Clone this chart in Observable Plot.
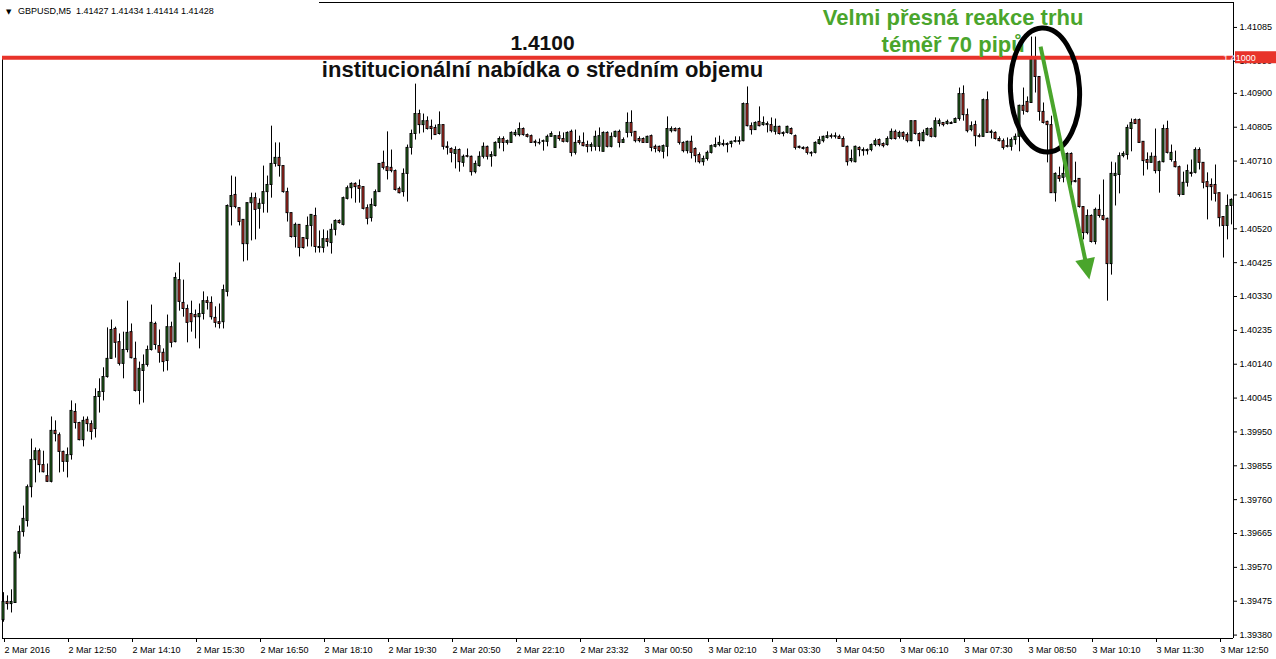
<!DOCTYPE html>
<html><head><meta charset="utf-8">
<script src="https://cdn.jsdelivr.net/npm/d3@7"></script>
<script src="https://cdn.jsdelivr.net/npm/@observablehq/plot@0.6"></script>
<style>html,body{margin:0;padding:0;background:#fff;} svg{display:block}</style>
</head><body><div id="chart"></div>
<script>
// ---------- data (GBPUSD M5, 2-3 Mar 2016) ----------
const symbol = "GBPUSD,M5";
const headerQuote = "1.41427 1.41434 1.41414 1.41428";

const open = [
1.39422,1.39473,1.39467,1.39470,1.39608,1.39669,1.39700,1.39795,1.39871,1.39896,
1.39857,1.39826,1.39810,1.39953,1.39941,1.39894,1.39866,1.39885,1.40006,1.39975,
1.39927,1.39984,1.39972,1.39958,1.40048,1.40062,1.40104,1.40155,1.40239,1.40202,
1.40141,1.40180,1.40230,1.40155,1.40065,1.40121,1.40138,1.40180,1.40253,1.40191,
1.40172,1.40149,1.40244,1.40202,1.40376,1.40312,1.40295,1.40281,1.40278,1.40272,
1.40281,1.40317,1.40312,1.40270,1.40258,1.40258,1.40343,1.40581,1.40615,1.40578,
1.40545,1.40477,1.40592,1.40606,1.40576,1.40590,1.40623,1.40643,1.40702,1.40719,
1.40696,1.40623,1.40564,1.40497,1.40531,1.40494,1.40491,1.40528,1.40556,1.40469,
1.40466,1.40491,1.40480,1.40517,1.40542,1.40531,1.40604,1.40634,1.40646,1.40640,
1.40637,1.40578,1.40550,1.40584,1.40623,1.40705,1.40693,1.40691,1.40682,1.40632,
1.40623,1.40674,1.40747,1.40786,1.40842,1.40811,1.40822,1.40806,1.40803,1.40786,
1.40811,1.40750,1.40744,1.40730,1.40741,1.40705,1.40724,1.40722,1.40679,1.40696,
1.40722,1.40750,1.40722,1.40724,1.40761,1.40772,1.40761,1.40761,1.40783,1.40783,
1.40800,1.40783,1.40780,1.40764,1.40761,1.40764,1.40764,1.40778,1.40747,1.40780,
1.40772,1.40764,1.40792,1.40733,1.40766,1.40761,1.40755,1.40750,1.40750,1.40750,
1.40736,1.40789,1.40750,1.40778,1.40792,1.40761,1.40789,1.40817,1.40792,1.40772,
1.40772,1.40761,1.40780,1.40750,1.40750,1.40736,1.40750,1.40794,1.40800,1.40800,
1.40761,1.40738,1.40764,1.40744,1.40727,1.40707,1.40716,1.40733,1.40750,1.40755,
1.40758,1.40758,1.40758,1.40764,1.40764,1.40766,1.40870,1.40808,1.40797,1.40820,
1.40811,1.40814,1.40811,1.40792,1.40806,1.40789,1.40789,1.40800,1.40780,1.40750,
1.40747,1.40747,1.40733,1.40733,1.40758,1.40766,1.40775,1.40780,1.40778,1.40778,
1.40772,1.40750,1.40710,1.40707,1.40747,1.40738,1.40738,1.40741,1.40755,1.40769,
1.40758,1.40755,1.40772,1.40792,1.40778,1.40789,1.40783,1.40766,1.40822,1.40786,
1.40766,1.40783,1.40800,1.40778,1.40814,1.40817,1.40814,1.40817,1.40817,1.40828,
1.40898,1.40839,1.40797,1.40811,1.40780,1.40778,1.40881,1.40792,1.40789,1.40772,
1.40766,1.40752,1.40750,1.40769,1.40778,1.40865,1.40876,1.40873,1.40994,1.40946,
1.40848,1.40820,1.40811,1.40620,1.40668,1.40663,1.40665,1.40730,1.40654,1.40660,
1.40581,1.40508,1.40556,1.40483,1.40573,1.40556,1.40548,1.40421,1.40668,1.40671,
1.40724,1.40727,1.40800,1.40825,1.40825,1.40764,1.40713,1.40705,1.40722,1.40682,
1.40707,1.40800,1.40713,1.40707,1.40693,1.40615,1.40649,1.40677,1.40677,1.40741,
1.40705,1.40651,1.40643,1.40643,1.40620,1.40553,1.40528,1.40584];

const close = [
1.39473,1.39467,1.39473,1.39611,1.39669,1.39706,1.39795,1.39871,1.39896,1.39857,
1.39837,1.39810,1.39953,1.39944,1.39894,1.39866,1.39885,1.40009,1.39975,1.39927,
1.39981,1.39972,1.39950,1.40048,1.40062,1.40104,1.40155,1.40236,1.40200,1.40141,
1.40180,1.40228,1.40157,1.40065,1.40127,1.40138,1.40180,1.40256,1.40194,1.40172,
1.40146,1.40244,1.40200,1.40382,1.40315,1.40295,1.40256,1.40258,1.40272,1.40281,
1.40317,1.40312,1.40272,1.40256,1.40253,1.40348,1.40584,1.40612,1.40581,1.40539,
1.40477,1.40592,1.40606,1.40573,1.40590,1.40623,1.40643,1.40702,1.40719,1.40696,
1.40623,1.40564,1.40497,1.40531,1.40466,1.40466,1.40528,1.40559,1.40469,1.40466,
1.40491,1.40483,1.40517,1.40542,1.40536,1.40606,1.40634,1.40646,1.40637,1.40632,
1.40576,1.40548,1.40587,1.40623,1.40702,1.40691,1.40682,1.40682,1.40629,1.40620,
1.40674,1.40747,1.40786,1.40842,1.40811,1.40822,1.40800,1.40800,1.40783,1.40811,
1.40750,1.40747,1.40733,1.40741,1.40707,1.40722,1.40722,1.40679,1.40702,1.40722,
1.40750,1.40722,1.40727,1.40761,1.40772,1.40761,1.40766,1.40789,1.40789,1.40800,
1.40783,1.40778,1.40761,1.40761,1.40760,1.40766,1.40778,1.40786,1.40780,1.40772,
1.40764,1.40789,1.40733,1.40761,1.40761,1.40752,1.40750,1.40755,1.40778,1.40780,
1.40789,1.40750,1.40778,1.40792,1.40761,1.40769,1.40817,1.40789,1.40766,1.40766,
1.40761,1.40778,1.40747,1.40744,1.40738,1.40752,1.40800,1.40800,1.40794,1.40761,
1.40738,1.40764,1.40733,1.40724,1.40707,1.40716,1.40733,1.40752,1.40755,1.40761,
1.40755,1.40755,1.40764,1.40766,1.40766,1.40870,1.40808,1.40797,1.40817,1.40808,
1.40817,1.40811,1.40794,1.40806,1.40786,1.40786,1.40806,1.40786,1.40747,1.40747,
1.40744,1.40733,1.40731,1.40761,1.40769,1.40778,1.40780,1.40778,1.40780,1.40772,
1.40750,1.40707,1.40716,1.40750,1.40741,1.40741,1.40741,1.40755,1.40766,1.40755,
1.40752,1.40772,1.40792,1.40772,1.40789,1.40778,1.40766,1.40822,1.40786,1.40766,
1.40789,1.40800,1.40778,1.40822,1.40822,1.40811,1.40820,1.40814,1.40828,1.40898,
1.40839,1.40794,1.40808,1.40780,1.40778,1.40881,1.40789,1.40789,1.40772,1.40766,
1.40747,1.40750,1.40769,1.40778,1.40865,1.40851,1.40848,1.40994,1.40946,1.40848,
1.40817,1.40811,1.40620,1.40674,1.40660,1.40674,1.40730,1.40651,1.40651,1.40581,
1.40508,1.40556,1.40483,1.40573,1.40556,1.40545,1.40421,1.40674,1.40674,1.40724,
1.40730,1.40803,1.40817,1.40814,1.40761,1.40710,1.40705,1.40722,1.40682,1.40707,
1.40800,1.40733,1.40733,1.40693,1.40615,1.40649,1.40682,1.40674,1.40741,1.40705,
1.40649,1.40637,1.40637,1.40618,1.40550,1.40528,1.40584,1.40601];

const high = [
1.39499,1.39490,1.39507,1.39616,1.39686,1.39742,1.39801,1.39930,1.39905,1.39902,
1.39896,1.39860,1.39992,1.39981,1.39947,1.39896,1.39905,1.40037,1.40029,1.39977,
1.39992,1.39992,1.39981,1.40071,1.40099,1.40130,1.40242,1.40264,1.40244,1.40225,
1.40230,1.40317,1.40253,1.40202,1.40146,1.40166,1.40191,1.40306,1.40258,1.40236,
1.40183,1.40278,1.40258,1.40396,1.40424,1.40376,1.40306,1.40317,1.40292,1.40309,
1.40343,1.40329,1.40329,1.40301,1.40309,1.40362,1.40587,1.40668,1.40665,1.40578,
1.40545,1.40592,1.40620,1.40620,1.40604,1.40696,1.40668,1.40808,1.40761,1.40761,
1.40696,1.40634,1.40564,1.40536,1.40531,1.40494,1.40553,1.40559,1.40578,1.40514,
1.40517,1.40514,1.40533,1.40545,1.40545,1.40609,1.40640,1.40649,1.40649,1.40657,
1.40637,1.40587,1.40604,1.40629,1.40702,1.40738,1.40792,1.40741,1.40685,1.40637,
1.40688,1.40755,1.40797,1.40926,1.40853,1.40842,1.40834,1.40825,1.40811,1.40848,
1.40811,1.40764,1.40747,1.40750,1.40744,1.40727,1.40744,1.40724,1.40710,1.40736,
1.40761,1.40752,1.40736,1.40764,1.40778,1.40778,1.40769,1.40792,1.40797,1.40817,
1.40803,1.40786,1.40783,1.40769,1.40772,1.40769,1.40783,1.40792,1.40780,1.40792,
1.40789,1.40792,1.40797,1.40797,1.40780,1.40789,1.40766,1.40761,1.40794,1.40803,
1.40792,1.40792,1.40789,1.40794,1.40797,1.40775,1.40845,1.40851,1.40792,1.40778,
1.40775,1.40780,1.40783,1.40755,1.40752,1.40755,1.40834,1.40806,1.40803,1.40803,
1.40764,1.40766,1.40780,1.40747,1.40733,1.40724,1.40738,1.40755,1.40775,1.40780,
1.40769,1.40761,1.40766,1.40778,1.40778,1.40873,1.40918,1.40817,1.40820,1.40862,
1.40834,1.40820,1.40831,1.40828,1.40808,1.40792,1.40808,1.40803,1.40783,1.40752,
1.40750,1.40750,1.40736,1.40764,1.40778,1.40780,1.40792,1.40786,1.40789,1.40783,
1.40778,1.40752,1.40741,1.40752,1.40750,1.40747,1.40744,1.40758,1.40772,1.40772,
1.40761,1.40778,1.40800,1.40797,1.40794,1.40792,1.40789,1.40822,1.40822,1.40789,
1.40797,1.40803,1.40803,1.40831,1.40828,1.40817,1.40825,1.40820,1.40831,1.40915,
1.40921,1.40856,1.40820,1.40822,1.40786,1.40884,1.40904,1.40797,1.40792,1.40778,
1.40772,1.40775,1.40775,1.40786,1.40867,1.40915,1.40890,1.41058,1.41058,1.40946,
1.40873,1.40822,1.40836,1.40677,1.40693,1.40707,1.40733,1.40733,1.40707,1.40660,
1.40581,1.40573,1.40559,1.40578,1.40615,1.40657,1.40550,1.40707,1.40705,1.40733,
1.40736,1.40811,1.40828,1.40828,1.40828,1.40764,1.40733,1.40733,1.40800,1.40710,
1.40811,1.40822,1.40755,1.40738,1.40696,1.40679,1.40699,1.40713,1.40747,1.40747,
1.40705,1.40677,1.40660,1.40699,1.40620,1.40553,1.40615,1.40604];

const low = [
1.39416,1.39450,1.39442,1.39470,1.39594,1.39655,1.39683,1.39765,1.39807,1.39835,
1.39835,1.39808,1.39807,1.39922,1.39835,1.39837,1.39821,1.39871,1.39958,1.39925,
1.39908,1.39950,1.39927,1.39933,1.40003,1.40037,1.40101,1.40155,1.40157,1.40135,
1.40099,1.40172,1.40155,1.40062,1.40026,1.40031,1.40132,1.40177,1.40180,1.40143,
1.40118,1.40121,1.40186,1.40200,1.40289,1.40272,1.40200,1.40230,1.40211,1.40183,
1.40264,1.40292,1.40264,1.40242,1.40239,1.40239,1.40329,1.40528,1.40576,1.40528,
1.40427,1.40430,1.40486,1.40489,1.40519,1.40564,1.40564,1.40606,1.40693,1.40665,
1.40620,1.40539,1.40494,1.40466,1.40441,1.40463,1.40469,1.40469,1.40452,1.40452,
1.40452,1.40469,1.40449,1.40500,1.40533,1.40528,1.40601,1.40604,1.40592,1.40592,
1.40573,1.40531,1.40539,1.40581,1.40623,1.40685,1.40657,1.40677,1.40626,1.40618,
1.40609,1.40595,1.40727,1.40769,1.40786,1.40789,1.40797,1.40769,1.40783,1.40783,
1.40741,1.40727,1.40705,1.40688,1.40679,1.40693,1.40719,1.40668,1.40674,1.40693,
1.40716,1.40713,1.40693,1.40722,1.40744,1.40736,1.40755,1.40761,1.40778,1.40778,
1.40780,1.40775,1.40761,1.40750,1.40755,1.40738,1.40750,1.40778,1.40747,1.40766,
1.40761,1.40761,1.40722,1.40727,1.40755,1.40750,1.40733,1.40736,1.40738,1.40736,
1.40736,1.40747,1.40747,1.40775,1.40747,1.40761,1.40775,1.40778,1.40761,1.40761,
1.40761,1.40761,1.40736,1.40733,1.40733,1.40716,1.40722,1.40789,1.40792,1.40755,
1.40733,1.40730,1.40716,1.40705,1.40702,1.40696,1.40710,1.40730,1.40747,1.40750,
1.40750,1.40733,1.40747,1.40761,1.40755,1.40764,1.40806,1.40783,1.40797,1.40806,
1.40808,1.40789,1.40789,1.40783,1.40783,1.40778,1.40786,1.40783,1.40741,1.40744,
1.40741,1.40727,1.40722,1.40730,1.40755,1.40761,1.40772,1.40772,1.40772,1.40772,
1.40750,1.40696,1.40705,1.40705,1.40722,1.40724,1.40727,1.40736,1.40750,1.40750,
1.40747,1.40752,1.40769,1.40769,1.40772,1.40769,1.40761,1.40764,1.40783,1.40750,
1.40764,1.40780,1.40775,1.40775,1.40806,1.40806,1.40811,1.40814,1.40817,1.40822,
1.40822,1.40789,1.40792,1.40750,1.40775,1.40778,1.40789,1.40772,1.40769,1.40764,
1.40741,1.40747,1.40738,1.40755,1.40736,1.40839,1.40845,1.40873,1.40901,1.40822,
1.40814,1.40705,1.40620,1.40595,1.40651,1.40649,1.40665,1.40640,1.40649,1.40578,
1.40489,1.40503,1.40480,1.40475,1.40550,1.40542,1.40317,1.40390,1.40584,1.40618,
1.40719,1.40713,1.40736,1.40814,1.40761,1.40668,1.40685,1.40705,1.40674,1.40620,
1.40705,1.40730,1.40707,1.40691,1.40609,1.40615,1.40637,1.40665,1.40674,1.40685,
1.40632,1.40545,1.40598,1.40595,1.40525,1.40438,1.40489,1.40531];

// x-axis tick labels (every 16th bar) and the bar index each one sits on
const timeLabels = ["2 Mar 2016","2 Mar 12:50","2 Mar 14:10","2 Mar 15:30","2 Mar 16:50",
  "2 Mar 18:10","2 Mar 19:30","2 Mar 20:50","2 Mar 22:10","2 Mar 23:32",
  "3 Mar 00:50","3 Mar 02:10","3 Mar 03:30","3 Mar 04:50","3 Mar 06:10",
  "3 Mar 07:30","3 Mar 08:50","3 Mar 10:10","3 Mar 11:30","3 Mar 12:50"];
const timeLabelIndex = [0,16,32,48,64,80,96,112,128,144,160,176,192,208,224,240,256,272,288,304];

// price-axis tick labels
const priceTicks = [1.39380,1.39475,1.39570,1.39665,1.39760,1.39855,1.39950,1.40045,1.40140,
  1.40235,1.40330,1.40425,1.40520,1.40615,1.40710,1.40805,1.40900,1.40990,1.41085];

// annotations
const levelPrice = 1.41000;
const levelTitle = "1.4100";
const levelSubtitle = "institucionální nabídka o středním objemu";
const noteLines = ["Velmi přesná reakce trhu", "téměř 70 pipů"];

// ---------- chart ----------
const candles = open.map((o, i) => ({i, open: o, high: high[i], low: low[i], close: close[i]}));
const GREEN = "#2b7a22", RED = "#e8392c", LINE_RED = "#e8332a", NOTE = "#4aa52c";
const xDom = [-0.25, 307.5], yDom = [1.393704, 1.411550];
const FONT = "'Liberation Sans', Arial, sans-serif";

const chart = Plot.plot({
  width: 1276, height: 659,
  marginLeft: 2, marginRight: 43, marginTop: 2, marginBottom: 21,
  x: {domain: xDom, axis: null},
  y: {domain: yDom, axis: null},
  style: {fontFamily: FONT, fontSize: "9px", background: "#fff", color: "#000"},
  marks: [
    // frame pieces
    Plot.ruleX([xDom[1]], {stroke: "#000"}),
    Plot.ruleY([yDom[0]], {stroke: "#000"}),
    Plot.ruleX([xDom[0]], {y1: levelPrice, y2: yDom[0], stroke: "#000"}),
    Plot.ruleY([yDom[1]], {x1: 79, x2: xDom[1], stroke: "#000"}),
    // candles
    Plot.ruleX(candles, {x: "i", y1: "low", y2: "high", stroke: "#000", strokeWidth: 1}),
    Plot.rect(candles, {x1: d => d.i - 0.25, x2: d => d.i + 0.25, y1: "open", y2: "close",
      fill: d => d.close >= d.open ? GREEN : RED, stroke: "#000", strokeWidth: 1}),
    Plot.ruleY(candles.filter(d => d.open === d.close), {y: "open", x1: d => d.i - 0.375, x2: d => d.i + 0.375, stroke: "#000"}),
    // level line
    Plot.ruleY([levelPrice], {stroke: LINE_RED, strokeWidth: 4}),
    // axes
    Plot.axisY(priceTicks, {anchor: "right", tickSize: 3, tickPadding: 3, tickFormat: d => d.toFixed(5), label: null, stroke: "#000", fill: "#000"}),
    Plot.axisX(timeLabelIndex, {anchor: "bottom", tickSize: 4, tickPadding: 4, textAnchor: "start", dx: 1,
      tickFormat: d => timeLabels[timeLabelIndex.indexOf(d)], label: null, stroke: "#000", fill: "#000"}),
    // header
    Plot.text(["\u25BC"], {frameAnchor: "top-left", dx: 3.5, dy: 11, lineAnchor: "bottom", textAnchor: "start", fontSize: 7, fontFamily: "'DejaVu Sans', sans-serif"}),
    Plot.text([symbol + "\u00a0\u00a0" + headerQuote], {frameAnchor: "top-left", dx: 15.5, dy: 11.5, lineAnchor: "bottom", textAnchor: "start", fontSize: 9}),
    // level annotation
    Plot.text([{t: levelTitle, x: 134.75, y: 1.41022}], {x: "x", y: "y", text: "t", lineAnchor: "bottom", fontSize: 21, fontWeight: "bold", fill: "#111"}),
    Plot.text([{t: levelSubtitle, x: 134.75, y: 1.40947}], {x: "x", y: "y", text: "t", lineAnchor: "bottom", fontSize: 22, fontWeight: "bold", fill: "#111"}),
    // green note
    Plot.text([{t: noteLines[0], x: 237.4, y: 1.41092}, {t: noteLines[1], x: 237.4, y: 1.41016}],
      {x: "x", y: "y", text: "t", lineAnchor: "bottom", fontSize: 22, fontWeight: "bold", fill: NOTE})
  ]
});
document.getElementById("chart").appendChild(chart);

// ellipse, arrow and price tag, positioned through the plot's scales
const svg = d3.select(chart);
const sx = chart.scale("x"), sy = chart.scale("y");
const ecx = sx.apply(260.5), ecy = sy.apply(1.40908);
svg.append("ellipse").attr("cx", ecx).attr("cy", ecy).attr("rx", 34.5).attr("ry", 62)
  .attr("fill", "none").attr("stroke", "#000").attr("stroke-width", 5)
  .attr("transform", `rotate(-3 ${ecx} ${ecy})`);

const ax0 = sx.apply(259.4), ay0 = sy.apply(1.41030);
const ax1 = sx.apply(271.6), ay1 = sy.apply(1.40376);
const len = Math.hypot(ax1 - ax0, ay1 - ay0), ux = (ax1 - ax0) / len, uy = (ay1 - ay0) / len;
const headL = 21, headW = 10;
const bx = ax1 - ux * headL, by = ay1 - uy * headL;
svg.append("line").attr("x1", ax0).attr("y1", ay0).attr("x2", bx + ux * 2).attr("y2", by + uy * 2)
  .attr("stroke", NOTE).attr("stroke-width", 4);
svg.append("path").attr("d", `M${ax1},${ay1}L${bx - uy * headW},${by + ux * headW}L${bx + uy * headW},${by - ux * headW}Z`)
  .attr("fill", NOTE);

const ly = sy.apply(levelPrice) + 0.5;
svg.append("rect").attr("x", 1235).attr("y", ly - 6.5).attr("width", 41).attr("height", 12).attr("fill", LINE_RED);
svg.append("text").attr("x", 1239.5).attr("y", ly + 3).attr("fill", "#fff")
  .attr("font-family", FONT).attr("font-size", 9).text(levelPrice.toFixed(5));
</script>
</body></html>
